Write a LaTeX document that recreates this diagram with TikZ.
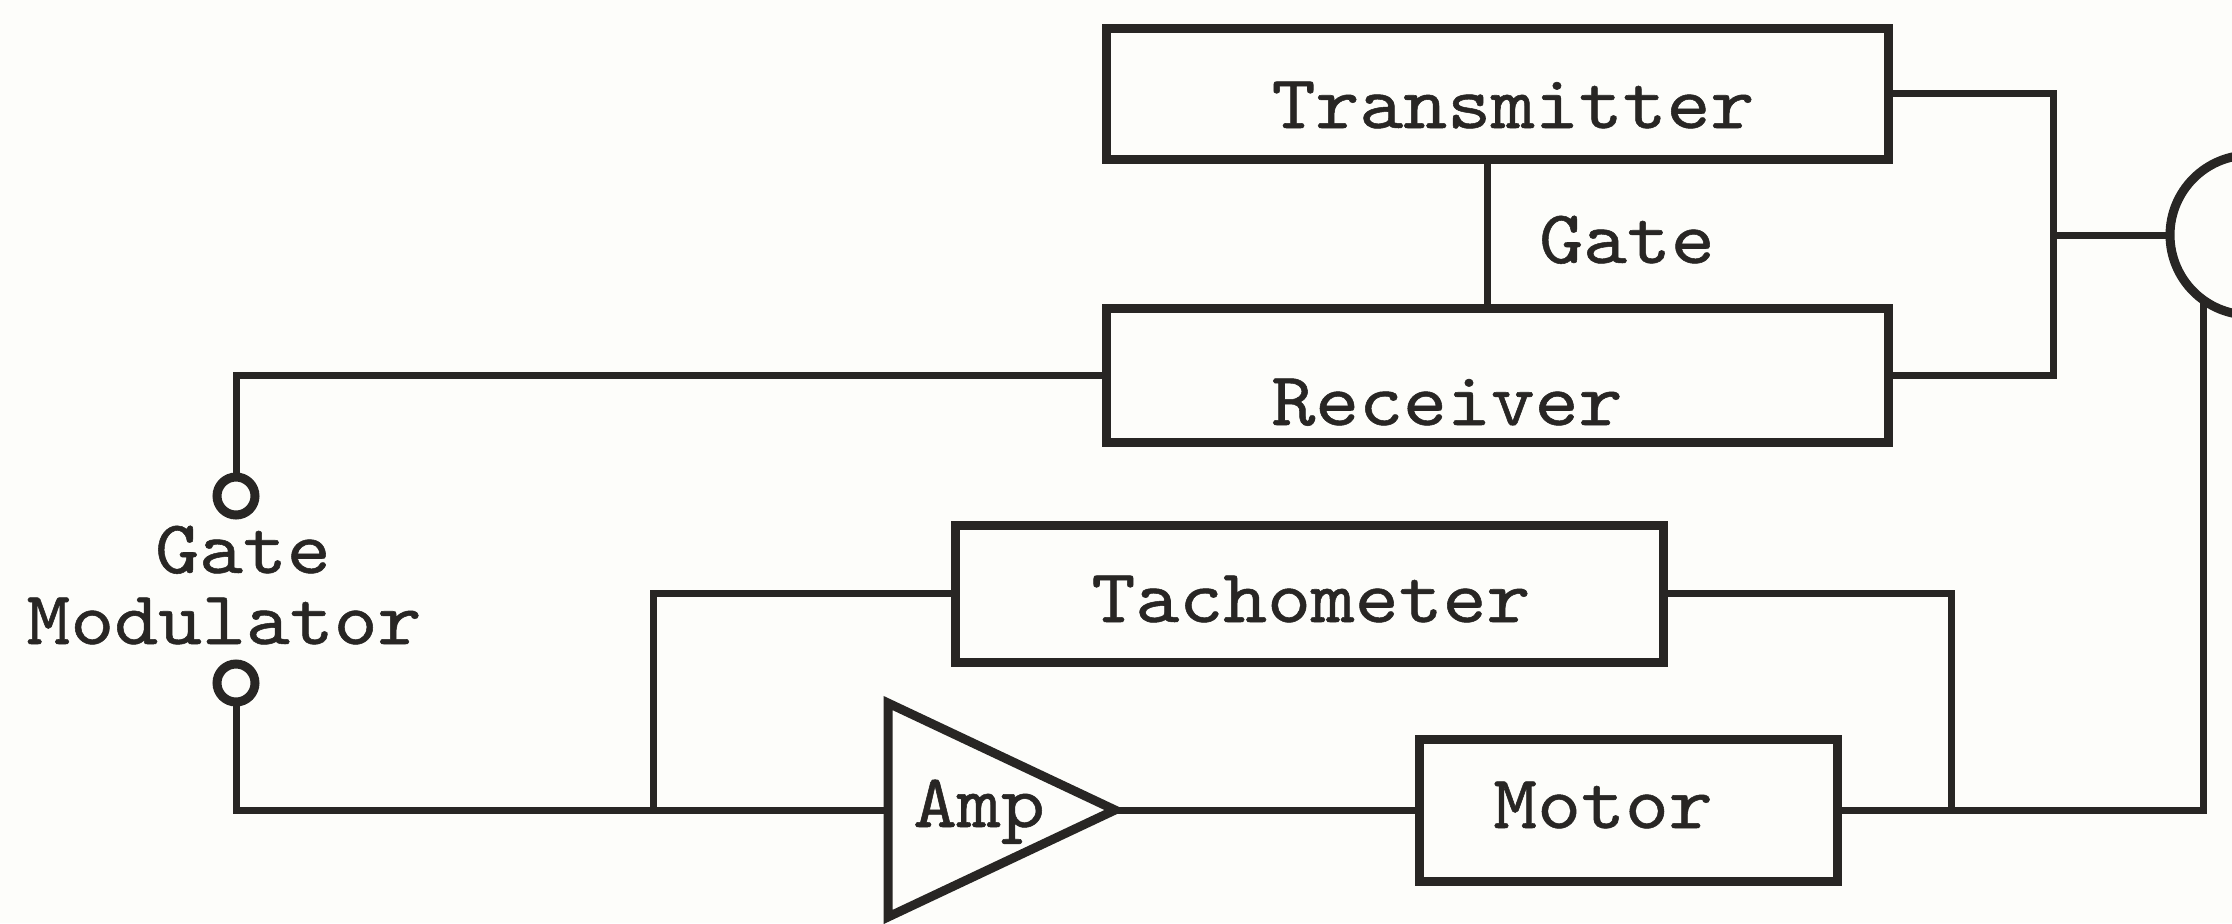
\documentclass[tikz,border=0pt]{standalone}
\usepackage{fontspec}
\newfontfamily\tw[Extension=.otf, FakeStretch=1.1, FakeBold=0.7]{lmmono10-regular}
\definecolor{inkc}{RGB}{40,38,36}
\definecolor{bgc}{RGB}{253,253,250}
\begin{document}
\begin{tikzpicture}[x=0.5pt,y=-0.5pt,
  box/.style={draw=inkc, line width=4.5pt, rectangle, inner sep=0pt, outer sep=0pt},
  term/.style={draw=inkc, line width=4.5pt, circle, inner sep=0pt, outer sep=0pt, minimum size=19pt},
  wire/.style={draw=inkc, line width=3.5pt, line join=miter},
  lbl/.style={inner sep=0pt, anchor=base, text=inkc,
    font=\tw\fontsize{38}{34}\selectfont}]
\fill[bgc] (0,0) rectangle (2232,923);
\useasboundingbox (0,0) rectangle (2232,923);
% blocks
\node[box, minimum width=391pt, minimum height=65.5pt] (trans) at (1497,93.5) {};
\node[box, minimum width=391pt, minimum height=67pt] (rec) at (1497,375) {};
\node[box, minimum width=354pt, minimum height=68.5pt] (tach) at (1309,593.5) {};
\node[box, minimum width=209pt, minimum height=71pt] (motor) at (1628,810) {};
\node[draw=inkc, line width=4.5pt, circle, minimum size=80pt, inner sep=0pt, outer sep=0pt] (dish) at (2250,235) {};
\node[term] (t1) at (236,496) {};
\node[term] (t2) at (236,683) {};
% amplifier
\draw[draw=inkc, line width=4.5pt, line join=miter] (888,703) -- (1115,810) -- (888,917) -- cycle;
\coordinate (ampin) at (888,810);
\coordinate (ampout) at (1115,810);
% helper columns
\coordinate (gx) at (1487,0);
\coordinate (rx) at (2053,0);
\coordinate (jx) at (653,0);
\coordinate (tx) at (1951,0);
% connectors
\draw[wire] (trans.east) -| (rx |- rec.east) -- (rec.east);
\draw[wire] (rx |- dish.west) -- (dish.west);
\draw[wire] (gx |- trans.south) -- (gx |- rec.north);
\draw[wire] (rec.west) -| (t1.north);
\draw[wire] (t2.south) |- (ampin);
\draw[wire] (jx |- ampin) |- (tach.west);
\draw[wire] (ampout) -- (motor.west);
\draw[wire] (motor.east) -| (dish.234);
\draw[wire] (tach.east) -| (tx |- motor.east);
% labels
\node[lbl] (ttxt) at (1513,128) {Transmitter};
\node[lbl] (gtxt) at (1627,263) {Gate};
\node[lbl] (rtxt) at (1447,425) {Receiver};
\node[lbl] (tatxt) at (1311,622) {Tachometer};
\node[lbl] (mtxt) at (1603,828) {Motor};
\node[lbl] (atxt) at (979,827) {Amp};
\node[lbl] (gm1) at (243,573) {Gate};
\node[lbl] (gm2) at (224,644) {Modulator};
\end{tikzpicture}
\end{document}
